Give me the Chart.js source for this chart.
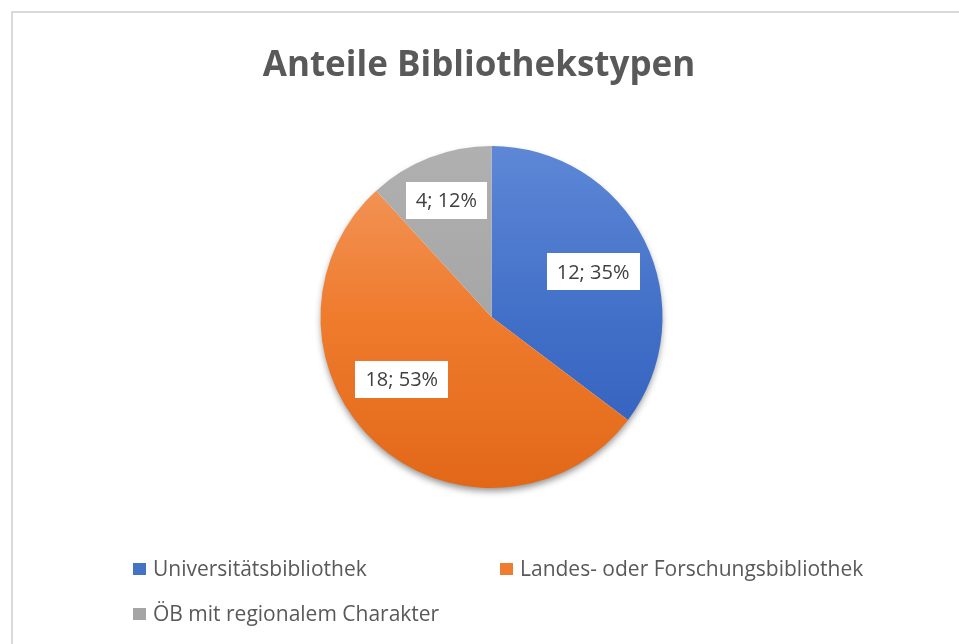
<!DOCTYPE html>
<html>
<head>
<meta charset="utf-8">
<script src="https://cdn.jsdelivr.net/npm/chart.js@4/dist/chart.umd.min.js"></script>
<style>
  html, body { margin: 0; padding: 0; background: #fff; }
  #frame {
    position: absolute; left: 11px; top: 11px; width: 960px; height: 650px;
    border-top: 2px solid #d9d9d9; border-left: 2px solid #d9d9d9;
  }
  #wrap { position: absolute; left: 0; top: 0; width: 959px; height: 644px; }
</style>
</head>
<body>
<div id="frame"></div>
<div id="wrap"><canvas id="chart"></canvas></div>
<script>
// Data
const chartTitle = 'Anteile Bibliothekstypen';
const categories = ['Universitätsbibliothek', 'Landes- oder Forschungsbibliothek', 'ÖB mit regionalem Charakter'];
const counts = [12, 18, 4];
const percents = ['35%', '53%', '12%'];

// Colours (light top -> dark bottom)
const gradientStops = [
    ['#5e87d6', '#4270c8', '#2e5cbb'],
    ['#f39a62', '#ef7b2d', '#e26818'],
    ['#b0b0b0', '#a6a6a6', '#9c9c9c']
];
const legendColors = ['#4472c4', '#ed7d31', '#a5a5a5'];
const textColor = '#595959';
const fontFamily = '"Open Sans", "Noto Sans", sans-serif';

function sliceFill(context) {
    const chart = context.chart;
    const area = chart.chartArea;
    if (!area) return legendColors[context.dataIndex];
    const stops = gradientStops[context.dataIndex];
    const g = chart.ctx.createLinearGradient(0, area.top, 0, area.bottom);
    g.addColorStop(0, stops[0]);
    g.addColorStop(0.5, stops[1]);
    g.addColorStop(1, stops[2]);
    return g;
}

// soft shadow under the pie
const pieShadow = {
    id: 'pieShadow',
    beforeDatasetsDraw(chart) {
        const arc = chart.getDatasetMeta(0).data[0];
        if (!arc) return;
        const ctx = chart.ctx;
        ctx.save();
        ctx.shadowColor = 'rgba(0,0,0,0.45)';
        ctx.shadowBlur = 7;
        ctx.shadowOffsetY = 4;
        ctx.fillStyle = '#ffffff';
        ctx.beginPath();
        ctx.arc(arc.x, arc.y, arc.outerRadius - 1, 0, Math.PI * 2);
        ctx.fill();
        ctx.restore();
    }
};

// data labels in white boxes ("best fit": radius share + small angle nudge)
const boxLabels = {
    id: 'boxLabels',
    afterDatasetsDraw(chart, args, opts) {
        const ctx = chart.ctx;
        const meta = chart.getDatasetMeta(0);
        ctx.save();
        ctx.font = '20px ' + fontFamily;
        ctx.textAlign = 'center';
        ctx.textBaseline = 'middle';
        meta.data.forEach((arc, i) => {
            const mid = (arc.startAngle + arc.endAngle) / 2 + opts.nudge[i] * Math.PI / 180;
            const r = arc.outerRadius * opts.radius[i];
            const x = arc.x + Math.cos(mid) * r;
            const y = arc.y + Math.sin(mid) * r;
            const text = counts[i] + '; ' + percents[i];
            const w = ctx.measureText(text).width + 20;
            const h = 37;
            ctx.fillStyle = '#ffffff';
            ctx.fillRect(Math.round(x - w / 2), Math.round(y - h / 2), Math.round(w), h);
            ctx.fillStyle = '#404040';
            ctx.fillText(text, x, y + 1);
        });
        ctx.restore();
    }
};

// title and legend laid out like the office chart
const officeText = {
    id: 'officeText',
    afterDraw(chart, args, opts) {
        const ctx = chart.ctx;
        ctx.save();
        ctx.fillStyle = textColor;
        ctx.textBaseline = 'middle';
        ctx.textAlign = 'center';
        ctx.font = 'bold 35px ' + fontFamily;
        ctx.fillText(chartTitle, opts.titleAt[0], opts.titleAt[1]);

        ctx.font = '21px ' + fontFamily;
        ctx.textAlign = 'left';
        chart.data.labels.forEach((label, i) => {
            const p = opts.slots[i];
            ctx.fillStyle = legendColors[i];
            ctx.fillRect(p[0], p[1] - 6, 13, 12);
            ctx.fillStyle = textColor;
            ctx.fillText(label, p[0] + 20, p[1] + 1);
        });
        ctx.restore();
    }
};

new Chart(document.getElementById('chart'), {
    type: 'pie',
    data: {
        labels: categories,
        datasets: [{
            data: counts,
            backgroundColor: sliceFill,
            borderWidth: 0
        }]
    },
    options: {
        responsive: true,
        maintainAspectRatio: false,
        animation: false,
        layout: { padding: { left: 24, right: 0, top: 146, bottom: 156 } },
        plugins: {
            legend: { display: false },
            tooltip: { enabled: false },
            title: { display: false },
            boxLabels: { radius: [0.65, 0.64, 0.73], nudge: [2.5, 12.7, 0] },
            officeText: { titleAt: [479, 66], slots: [[133, 569], [500, 569], [133, 614]] }
        }
    },
    plugins: [pieShadow, boxLabels, officeText]
});
</script>
</body>
</html>
